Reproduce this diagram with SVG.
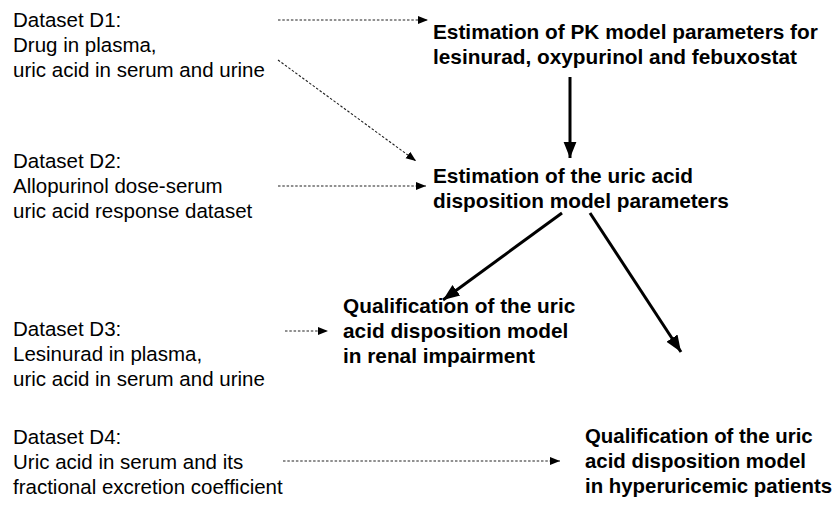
<svg xmlns="http://www.w3.org/2000/svg" width="836" height="505" viewBox="0 0 836 505">
<style>
text{font-family:"Liberation Sans",Arial,sans-serif;font-size:20.5px;fill:#000}
.b{font-weight:bold;font-size:20.8px}
#q2 text{font-size:20.4px}
.dot{stroke:#222;stroke-width:1.1;stroke-dasharray:2.5,1.8;fill:none}
.sol{stroke:#000;stroke-width:3;fill:none}
</style>
<defs>
<marker id="ah" viewBox="0 0 10 10" refX="10" refY="5" markerWidth="10" markerHeight="10" markerUnits="userSpaceOnUse" orient="auto"><path d="M0,1 L10,5 L0,9 z" fill="#000"/></marker>
<marker id="ahs" viewBox="0 0 10 10" refX="10" refY="5" markerWidth="5.5" markerHeight="5.5" orient="auto"><path d="M0,1 L10,5 L0,9 z" fill="#000"/></marker>
</defs>
<g id="d1"><text x="13" y="27">Dataset D1:</text><text x="13" y="52">Drug in plasma,</text><text x="13" y="77">uric acid in serum and urine</text></g>
<g id="d2"><text x="13" y="168">Dataset D2:</text><text x="13" y="193">Allopurinol dose-serum</text><text x="13" y="218">uric acid response dataset</text></g>
<g id="d3"><text x="13" y="336">Dataset D3:</text><text x="13" y="361">Lesinurad in plasma,</text><text x="13" y="386">uric acid in serum and urine</text></g>
<g id="d4"><text x="13" y="444">Dataset D4:</text><text x="13" y="469">Uric acid in serum and its</text><text x="13" y="494">fractional excretion coefficient</text></g>
<g id="pk"><text class="b" x="433" y="39">Estimation of PK model parameters for</text><text class="b" x="433" y="64">lesinurad, oxypurinol and febuxostat</text></g>
<g id="ua"><text class="b" x="433" y="183">Estimation of the uric acid</text><text class="b" x="433" y="208">disposition model parameters</text></g>
<g id="q1"><text class="b" x="343" y="313">Qualification of the uric</text><text class="b" x="343" y="338">acid disposition model</text><text class="b" x="343" y="363">in renal impairment</text></g>
<g id="q2"><text class="b" x="585" y="443">Qualification of the uric</text><text class="b" x="585" y="468">acid disposition model</text><text class="b" x="585" y="493">in hyperuricemic patients</text></g>
<g id="connectors">
<line class="dot" x1="278" y1="20" x2="428" y2="20" marker-end="url(#ah)"/>
<line class="dot" x1="278" y1="60" x2="416" y2="161" marker-end="url(#ah)"/>
<line class="dot" x1="278" y1="186" x2="426" y2="186" marker-end="url(#ah)"/>
<line class="dot" x1="285" y1="331" x2="328" y2="331" marker-end="url(#ah)"/>
<line class="dot" x1="283" y1="461" x2="560" y2="461" marker-end="url(#ah)"/>
<line class="sol" x1="570" y1="77" x2="570" y2="158" marker-end="url(#ahs)"/>
<line class="sol" x1="562" y1="213" x2="443" y2="300" marker-end="url(#ahs)"/>
<line class="sol" x1="590" y1="213" x2="681" y2="352" marker-end="url(#ahs)"/>
</g>
</svg>
